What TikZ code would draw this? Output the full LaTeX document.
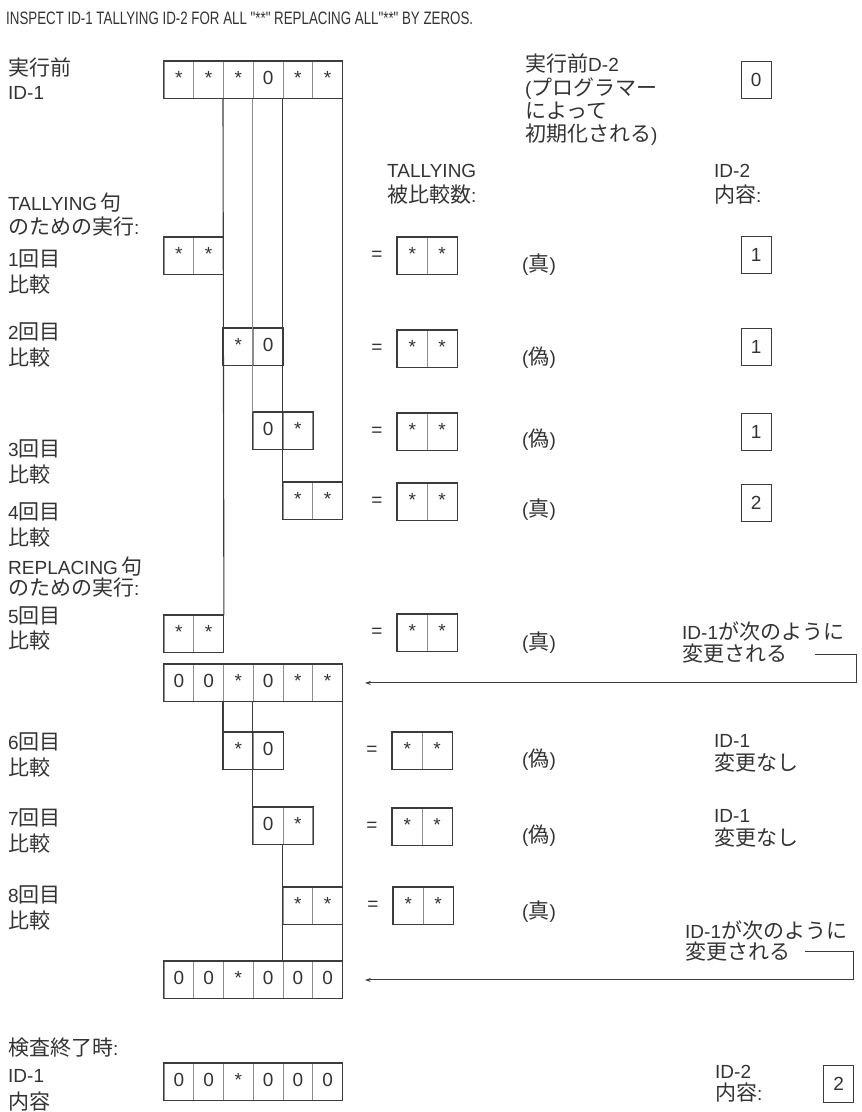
\documentclass[tikz,border=0pt]{standalone}
\usepackage{fontspec}
\setmainfont{Liberation Sans}
\newfontfamily\jpfont{Noto Sans CJK JP}
\newfontfamily\titlefont[FakeStretch=0.74]{Liberation Sans}
\newcommand\jp[1]{{\jpfont\fontsize{21}{24}\selectfont #1}}
\usepackage{xcolor}
\definecolor{Ink}{HTML}{333333}
\definecolor{Rule}{HTML}{3C3C3C}
\definecolor{Pale}{HTML}{8C8C8C}
\colorlet{ink}{Ink}
\colorlet{rule}{Rule}
\colorlet{pale}{Pale}
\usepackage{tikz}
\usetikzlibrary{arrows.meta,positioning}

\begin{document}
\begin{tikzpicture}[x=1pt,y=-1pt,
  every node/.style={font=\fontsize{19}{25}\selectfont,text=ink,align=left,inner sep=0pt},
  cell/.style={draw=pale,line width=0.9pt,minimum width=29.75pt,minimum height=37pt,text height=13pt,text depth=3pt,anchor=north west,align=center,font=\fontsize{19}{19}\selectfont},
  frame/.style={draw=rule,line width=1.1pt},
  idbox/.style={draw=rule,line width=1.1pt,minimum width=30pt,minimum height=37pt,text height=13pt,text depth=0pt,anchor=north west,align=center},
  lbl/.style={anchor=west},
  link/.style={draw=rule,line width=1.1pt},
  thinlink/.style={draw=pale,line width=1.1pt},
  back/.style={draw=rule,line width=1pt,-{Stealth[length=6pt,width=4pt]}}]
\useasboundingbox (0,0) rectangle (862,1112);

\node[lbl] (title) at (6,18) {\titlefont\fontsize{18}{18}\selectfont INSPECT ID-1 TALLYING ID-2 FOR ALL "**" REPLACING ALL"**" BY ZEROS.};

% ID-1 rows
\foreach \v [count=\k from 0] in {*,*,*,0,*,*} \node[cell] (init-\k) at ({163.5+29.75*\k},61) {\v};
\draw[frame] (init-0.north west) rectangle (init-5.south east);
\foreach \v [count=\k from 0] in {*,*} \node[cell] (cmp1-\k) at ({163.5+29.75*\k},237) {\v};
\draw[frame] (cmp1-0.north west) rectangle (cmp1-1.south east);
\foreach \v [count=\k from 2] in {*,0} \node[cell] (cmp2-\k) at ({163.5+29.75*\k},328) {\v};
\draw[frame] (cmp2-2.north west) rectangle (cmp2-3.south east);
\foreach \v [count=\k from 3] in {0,*} \node[cell] (cmp3-\k) at ({163.5+29.75*\k},412) {\v};
\draw[frame] (cmp3-3.north west) rectangle (cmp3-4.south east);
\foreach \v [count=\k from 4] in {*,*} \node[cell] (cmp4-\k) at ({163.5+29.75*\k},482) {\v};
\draw[frame] (cmp4-4.north west) rectangle (cmp4-5.south east);
\foreach \v [count=\k from 0] in {*,*} \node[cell] (cmp5-\k) at ({163.5+29.75*\k},615) {\v};
\draw[frame] (cmp5-0.north west) rectangle (cmp5-1.south east);
\foreach \v [count=\k from 0] in {0,0,*,0,*,*} \node[cell] (midA-\k) at ({163.5+29.75*\k},664) {\v};
\draw[frame] (midA-0.north west) rectangle (midA-5.south east);
\foreach \v [count=\k from 2] in {*,0} \node[cell] (cmp6-\k) at ({163.5+29.75*\k},732) {\v};
\draw[frame] (cmp6-2.north west) rectangle (cmp6-3.south east);
\foreach \v [count=\k from 3] in {0,*} \node[cell] (cmp7-\k) at ({163.5+29.75*\k},807) {\v};
\draw[frame] (cmp7-3.north west) rectangle (cmp7-4.south east);
\foreach \v [count=\k from 4] in {*,*} \node[cell] (cmp8-\k) at ({163.5+29.75*\k},887) {\v};
\draw[frame] (cmp8-4.north west) rectangle (cmp8-5.south east);
\foreach \v [count=\k from 0] in {0,0,*,0,0,0} \node[cell] (midB-\k) at ({163.5+29.75*\k},961) {\v};
\draw[frame] (midB-0.north west) rectangle (midB-5.south east);
\foreach \v [count=\k from 0] in {0,0,*,0,0,0} \node[cell] (last-\k) at ({163.5+29.75*\k},1063) {\v};
\draw[frame] (last-0.north west) rectangle (last-5.south east);

\draw[link] (init-2.south west) -- (cmp5-1.north east);
\draw[thinlink] (init-3.south west) -- (cmp3-3.north west);
\draw[link] (init-4.south west) -- (cmp4-4.north west);
\draw[link] (init-5.south east) -- (cmp4-5.north east);
\draw[link] (midA-2.south west) -- (cmp6-2.north west);
\draw[link] (midA-3.south west) -- (cmp7-3.north west);
\draw[link] (cmp7-4.south west) -- (midB-4.north west);
\draw[link] (midA-5.south east) -- (midB-5.north east);

% left labels
\node[lbl,font=\fontsize{19}{24}\selectfont] (before) at (8,79) {\jp{実行前}\\ID-1};
\node[lbl,font=\fontsize{19}{24}\selectfont] (tallyhead) at (8,215) {TALLYING\,\jp{句}\\\jp{のための実行}:};
\node[lbl,font=\fontsize{19}{26}\selectfont] (lab1) at (8,271.5) {1\jp{回目}\\\jp{比較}};
\node[lbl,font=\fontsize{19}{26}\selectfont] (lab2) at (8,344.5) {2\jp{回目}\\\jp{比較}};
\node[lbl,font=\fontsize{19}{26}\selectfont] (lab3) at (8,461.5) {3\jp{回目}\\\jp{比較}};
\node[lbl,font=\fontsize{19}{26}\selectfont] (lab4) at (8,524.5) {4\jp{回目}\\\jp{比較}};
\node[lbl,font=\fontsize{19}{21}\selectfont] (replhead) at (8,577) {REPLACING\,\jp{句}\\\jp{のための実行}:};
\node[lbl,font=\fontsize{19}{25}\selectfont] (lab5) at (8,628) {5\jp{回目}\\\jp{比較}};
\node[lbl,font=\fontsize{19}{26}\selectfont] (lab6) at (8,755) {6\jp{回目}\\\jp{比較}};
\node[lbl,font=\fontsize{19}{26}\selectfont] (lab7) at (8,830.5) {7\jp{回目}\\\jp{比較}};
\node[lbl,font=\fontsize{19}{26}\selectfont] (lab8) at (8,907.5) {8\jp{回目}\\\jp{比較}};
\node[lbl,font=\fontsize{19}{27}\selectfont] (endhead) at (8,1075) {\jp{検査終了時}:\\ID-1\\\jp{内容}};

% compared operand
\node[lbl,font=\fontsize{19}{25}\selectfont] (cmphead) at (387,184.5) {TALLYING\\\jp{被比較数}:};
\foreach \r/\ex/\ey in {1/397/237,2/397/330,3/397/413,4/397/483,5/397/614,6/392/732,7/392/808,8/393/887} {
  \node (eqs\r) at (\ex-20,\ey+18.5) {=};
  \node[cell] (eq\r-0) at (\ex,\ey) {*};
  \node[cell] (eq\r-1) at (\ex+29.75,\ey) {*};
  \draw[frame] (eq\r-0.north west) rectangle (eq\r-1.south east);
}
\foreach \r/\ty/\t in {1/265/真,2/358/偽,3/440/偽,4/510/真,5/643/真,6/760/偽,7/836/偽,8/912/真}
  \node[lbl] (truth\r) at (522,\ty) {(\jp{\t})};

% ID-2
\node[lbl,font=\fontsize{19}{23.3}\selectfont] (initnote) at (525,100) {\jp{実行前}D-2\\(\jp{プログラマー}\\\jp{によって}\\\jp{初期化される})};
\node[idbox] (tally0) at (740.5,61) {0};
\node[lbl,font=\fontsize{19}{25}\selectfont] (id2head) at (714,184.5) {ID-2\\\jp{内容}:};
\node[idbox] (tally1) at (740.5,236) {1};
\node[idbox] (tally2) at (740.5,328) {1};
\node[idbox] (tally3) at (740.5,413) {1};
\node[idbox] (tally4) at (740.5,484) {2};
\node[lbl,font=\fontsize{19}{22}\selectfont] (id2end) at (715,1084) {ID-2\\\jp{内容}:};
\node[idbox] (tallyend) at (823,1065) {2};

% ID-1 changes
\node[lbl,font=\fontsize{19}{22}\selectfont] (chgA) at (682,642) {ID-1\jp{が次のように}\\\jp{変更される}};
\node[lbl,font=\fontsize{19}{23}\selectfont] (sameA) at (714,753.5) {ID-1\\\jp{変更なし}};
\node[lbl,font=\fontsize{19}{23}\selectfont] (sameB) at (714,828) {ID-1\\\jp{変更なし}};
\node[lbl,font=\fontsize{19}{21}\selectfont] (chgB) at (685,941) {ID-1\jp{が次のように}\\\jp{変更される}};
\coordinate (stubA) at (815,654);
\coordinate (bendA) at (856,654);
\coordinate (stubB) at (805,951);
\coordinate (bendB) at (853,951);
\draw[back] (stubA) -- (bendA) |- ([xshift=22pt]midA-5.east);
\draw[back] (stubB) -- (bendB) |- ([xshift=22pt]midB-5.east);
\end{tikzpicture}
\end{document}
